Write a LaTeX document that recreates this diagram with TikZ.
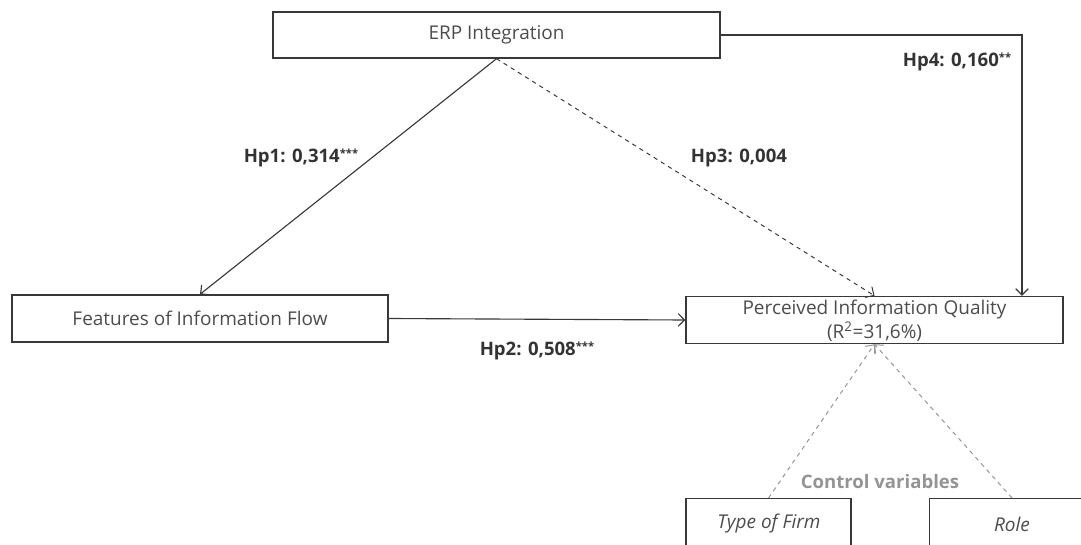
\documentclass[tikz,border=0pt]{standalone}
\usepackage{fontspec}
\setmainfont{Open Sans}
\usetikzlibrary{arrows.meta}
\definecolor{boxline}{rgb}{0.22, 0.22, 0.22}
\definecolor{boxtext}{rgb}{0.30, 0.30, 0.30}
\definecolor{ctrlgray}{rgb}{0.58, 0.58, 0.58}
\newcommand{\sigstars}[1]{\raisebox{0.55ex}{\fontsize{8}{8}\selectfont #1}}

\begin{document}
\begin{tikzpicture}
    [x=0.025cm,y=-0.025cm,>={Straight Barb[length=4.5pt,width=9pt]},
     varbox/.style={rectangle,draw=boxline,line width=1pt,text=boxtext,
        font=\fontsize{13.5}{15}\selectfont,inner sep=0pt},
     hplabel/.style={font=\fontsize{13.2}{15}\selectfont\bfseries,text=black!80}]

    \useasboundingbox (0,0) rectangle (1081,545);

\node[varbox,minimum width=447*0.025cm,minimum height=46*0.025cm] (erp) at (496.5,35) {ERP Integration};
\node[varbox,minimum width=376*0.025cm,minimum height=47*0.025cm] (feat) at (200,318.5) {Features of Information Flow};
\node[varbox,minimum width=377*0.025cm,minimum height=47*0.025cm] (piq) at (874.5,320) {};
\node[text=boxtext,font=\fontsize{13.5}{15}\selectfont] (piqtxt) at (874.5,310) {Perceived Information Quality};
\node[text=boxtext,font=\fontsize{13.5}{15}\selectfont] (piqr) at (874.5,332) {(R\textsuperscript{2}=31,6\%)};
\node[varbox,minimum width=165*0.025cm,minimum height=90*0.025cm,anchor=north] (firm) at (768.5,498) {};
\node[varbox,minimum width=165*0.025cm,minimum height=90*0.025cm,anchor=north] (role) at (1012,498) {};
\node[text=boxtext,font=\fontsize{13.5}{15}\selectfont\itshape] (firmtxt) at (769,524) {Type of Firm};
\node[text=boxtext,font=\fontsize{13.5}{15}\selectfont\itshape] (roletxt) at (1012,524) {Role};

\coordinate (corner) at (1022,35);

\draw[->,boxline,line width=0.8pt] (erp.south) -- (feat.north);
\draw[->,boxline,line width=0.7pt,dashed] (erp.south) -- (piq.north);
\draw[->,boxline,line width=0.8pt] (feat.east) -- (piq.west);
\draw[->,boxline,line width=0.8pt] (erp.east) -- (corner) -- (corner |- piq.north);
\draw[->,ctrlgray,line width=0.7pt,dashed] (firm.north) -- (piq.south);
\draw[->,ctrlgray,line width=0.7pt,dashed] (role.north) -- (piq.south);

\node[hplabel] (hp1) at (301,158) {Hp1: 0,314\sigstars{***}};
\node[hplabel] (hp3) at (739,158) {Hp3: 0,004};
\node[hplabel] (hp4) at (957,62) {Hp4: 0,160\sigstars{**}};
\node[hplabel] (hp2) at (537,351) {Hp2: 0,508\sigstars{***}};
\node[hplabel,text=ctrlgray] (ctrl) at (880,482) {Control variables};

  \end{tikzpicture}
\end{document}
